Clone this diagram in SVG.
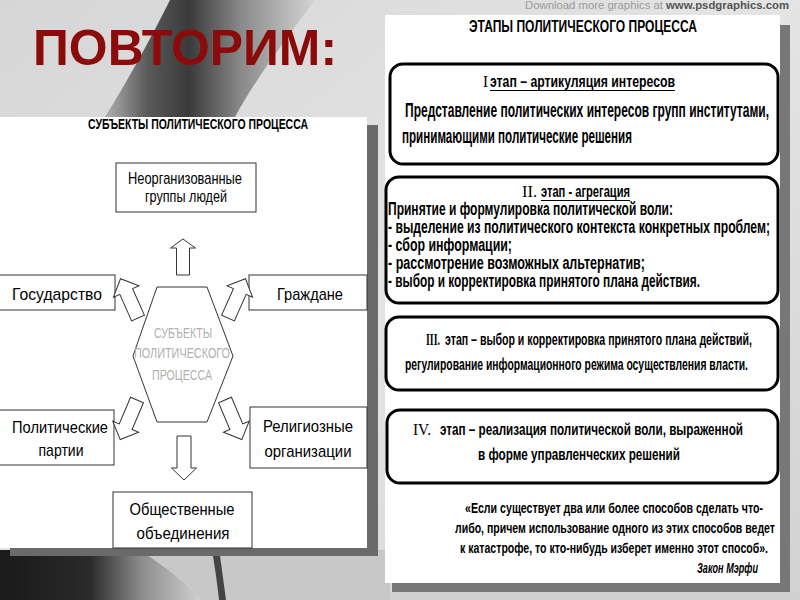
<svg xmlns="http://www.w3.org/2000/svg" width="800" height="600" viewBox="0 0 800 600">
<defs>
<linearGradient id="bg" x1="0" y1="0" x2="1" y2="1">
<stop offset="0" stop-color="#d6d6d6"/>
<stop offset="0.5" stop-color="#e4e4e4"/>
<stop offset="1" stop-color="#d2d2d2"/>
</linearGradient>
<linearGradient id="fold" x1="0" y1="0" x2="1" y2="0">
<stop offset="0" stop-color="#b0b0b0"/>
<stop offset="0.2" stop-color="#5a5a5a"/>
<stop offset="0.4" stop-color="#3a3a3a"/>
<stop offset="0.65" stop-color="#8a8a8a"/>
<stop offset="1" stop-color="#d4d4d4"/>
</linearGradient>
<linearGradient id="botl" x1="0" y1="0" x2="1" y2="0">
<stop offset="0" stop-color="#1a1a1a"/>
<stop offset="0.45" stop-color="#2a2a2a"/>
<stop offset="0.7" stop-color="#8a8a8a"/>
<stop offset="1" stop-color="#cfcfcf"/>
</linearGradient>
<style>
.t{font-family:"Liberation Sans Narrow","Liberation Sans",Arial,sans-serif;fill:#000}
.b{font-weight:bold}
.lbl{font-size:17px;text-anchor:middle}
.r{font-size:16.5px;font-weight:bold}
.r1{font-size:19.5px;font-weight:bold}
.r2{font-size:17.5px;font-weight:bold}
.q{font-size:15.5px;font-weight:bold}
.sr{font-family:"Liberation Serif","Times New Roman",serif;font-size:17px;fill:#000}
.box{fill:#fff;stroke:#333;stroke-width:1}
.rb{fill:#fff;stroke:#000;stroke-width:3}
.arr{fill:#fff;stroke:#333;stroke-width:1;stroke-linejoin:miter}
.hex{font-family:"Liberation Sans Narrow","Liberation Sans",Arial,sans-serif;font-size:14px;fill:#b0b0b0;text-anchor:middle}
</style>
</defs>

<!-- background -->
<rect x="0" y="0" width="800" height="600" fill="url(#bg)"/>
<path d="M170,0 C150,40 128,80 105,117 L235,117 C255,80 285,40 315,0 Z" fill="url(#fold)"/>
<path d="M0,550 L140,550 C170,570 190,585 200,600 L0,600 Z" fill="url(#botl)"/>
<path d="M140,550 L390,550 L390,600 L200,600 C190,585 170,570 140,550 Z" fill="#c8c8c8"/>
<path d="M213,556 C216,575 218,590 219,600 L226,600 C224,585 222,570 220,556 Z" fill="#444"/>
<rect x="390" y="592" width="410" height="8" fill="#d0d0d0"/>

<!-- title -->
<text x="33" y="65" font-family="Liberation Sans, Arial, sans-serif" font-size="50" font-weight="bold" fill="#8b0a0a" textLength="304" lengthAdjust="spacingAndGlyphs">ПОВТОРИМ:</text>

<!-- watermark -->
<text x="525" y="9" font-family="Liberation Sans, Arial, sans-serif" font-size="10.5" fill="#9a9a9a" textLength="264" lengthAdjust="spacingAndGlyphs">Download more graphics at <tspan fill="#555" font-weight="bold">www.psdgraphics.com</tspan></text>

<!-- left panel -->
<g id="left-panel">
<rect x="10" y="125" width="368" height="431" fill="#6a6a6a"/>
<rect x="0" y="117" width="367" height="431" fill="#fff"/>
<text class="t b" x="88" y="129" font-size="14" textLength="220" lengthAdjust="spacingAndGlyphs">СУБЪЕКТЫ ПОЛИТИЧЕСКОГО ПРОЦЕССА</text>
</g>

<g id="hexagon">
<polygon points="157,287 207,287 233,356 207,422 157,422 133,356" fill="#fff" stroke="#333" stroke-width="1"/>
<text class="hex" x="183" y="338" textLength="58" lengthAdjust="spacingAndGlyphs">СУБЪЕКТЫ</text>
<text class="hex" x="182" y="358" textLength="96" lengthAdjust="spacingAndGlyphs">ПОЛИТИЧЕСКОГО</text>
<text class="hex" x="182" y="380" textLength="60" lengthAdjust="spacingAndGlyphs">ПРОЦЕССА</text>
</g>

<g id="n-groups">
<rect class="box" x="116" y="163" width="140" height="49"/>
<text class="t lbl" x="185" y="184" textLength="114" lengthAdjust="spacingAndGlyphs">Неорганизованные</text>
<text class="t lbl" x="186" y="202" textLength="82" lengthAdjust="spacingAndGlyphs">группы людей</text>
</g>
<g id="n-state">
<rect class="box" x="-1" y="275" width="116" height="35"/>
<text class="t lbl" x="57" y="300" textLength="90" lengthAdjust="spacingAndGlyphs">Государство</text>
</g>
<g id="n-citizens">
<rect class="box" x="249" y="275" width="118" height="35"/>
<text class="t lbl" x="310" y="300" textLength="66" lengthAdjust="spacingAndGlyphs">Граждане</text>
</g>
<g id="n-parties">
<rect class="box" x="-1" y="410" width="115" height="55"/>
<text class="t lbl" x="60" y="433" textLength="96" lengthAdjust="spacingAndGlyphs">Политические</text>
<text class="t lbl" x="61" y="456" textLength="45" lengthAdjust="spacingAndGlyphs">партии</text>
</g>
<g id="n-religious">
<rect class="box" x="250" y="407" width="117" height="61"/>
<text class="t lbl" x="308" y="432" textLength="90" lengthAdjust="spacingAndGlyphs">Религиозные</text>
<text class="t lbl" x="308" y="457" textLength="87" lengthAdjust="spacingAndGlyphs">организации</text>
</g>
<g id="n-public">
<rect class="box" x="113" y="492" width="139" height="56"/>
<text class="t lbl" x="182" y="515" textLength="105" lengthAdjust="spacingAndGlyphs">Общественные</text>
<text class="t lbl" x="183" y="539" textLength="93" lengthAdjust="spacingAndGlyphs">объединения</text>
</g>

<g id="connectors">
<path class="arr" transform="translate(183,275)" d="M-6.5,0 V-27 H-12.5 L0,-36 L12.5,-27 H6.5 V0 Z"/>
<path class="arr" transform="translate(184,436) rotate(180)" d="M-7,0 V-32 H-12.5 L0,-44 L12.5,-32 H7 V0 Z"/>
<path class="arr" transform="translate(138,318) rotate(-24)" d="M-7,0 V-29 H-14 L0,-43 L14,-29 H7 V0 Z"/>
<path class="arr" transform="translate(228,318) rotate(24)" d="M-7,0 V-29 H-14 L0,-43 L14,-29 H7 V0 Z"/>
<path class="arr" transform="translate(137,400) rotate(-157)" d="M-7,0 V-29 H-14 L0,-43 L14,-29 H7 V0 Z"/>
<path class="arr" transform="translate(225,400) rotate(157)" d="M-7,0 V-29 H-14 L0,-43 L14,-29 H7 V0 Z"/>
</g>

<!-- right panel -->
<g id="right-panel">
<rect x="392" y="25" width="398" height="567" fill="#777"/>
<rect x="385" y="15" width="395" height="568" fill="#fff"/>
<text class="t b" x="469" y="32" font-size="16.5" textLength="228" lengthAdjust="spacingAndGlyphs">ЭТАПЫ ПОЛИТИЧЕСКОГО ПРОЦЕССА</text>
</g>

<g id="stage1">
<rect class="rb" x="390" y="64" width="388" height="100" rx="13"/>
<text class="sr" x="483" y="87" textLength="5" lengthAdjust="spacingAndGlyphs">I</text>
<text class="t r" x="490" y="87" textLength="185" lengthAdjust="spacingAndGlyphs">этап – артикуляция интересов</text>
<line x1="490" y1="90.5" x2="675" y2="90.5" stroke="#000" stroke-width="1.2"/>
<text class="t r1" x="405" y="117" textLength="364" lengthAdjust="spacingAndGlyphs">Представление политических интересов групп институтами,</text>
<text class="t r1" x="402" y="143" textLength="230" lengthAdjust="spacingAndGlyphs">принимающими политические решения</text>
</g>

<g id="stage2">
<rect class="rb" x="386" y="177" width="392" height="126" rx="13"/>
<text class="sr" x="522" y="197" textLength="15" lengthAdjust="spacingAndGlyphs">II.</text>
<text class="t r" x="541" y="197" textLength="89" lengthAdjust="spacingAndGlyphs">этап - агрегация</text>
<line x1="541" y1="200.5" x2="630" y2="200.5" stroke="#000" stroke-width="1.2"/>
<text class="t r2" x="388" y="215" textLength="285" lengthAdjust="spacingAndGlyphs">Принятие  и формулировка политической воли:</text>
<text class="t r2" x="388" y="233" textLength="382" lengthAdjust="spacingAndGlyphs">- выделение из политического контекста конкретных  проблем;</text>
<text class="t r2" x="388" y="251" textLength="124" lengthAdjust="spacingAndGlyphs">- сбор информации;</text>
<text class="t r2" x="388" y="269" textLength="257" lengthAdjust="spacingAndGlyphs">- рассмотрение возможных альтернатив;</text>
<text class="t r2" x="388" y="287" textLength="312" lengthAdjust="spacingAndGlyphs">- выбор и корректировка принятого плана действия.</text>
</g>

<g id="stage3">
<rect class="rb" x="386" y="317" width="392" height="73" rx="13"/>
<text class="sr b" x="426" y="345" font-size="15" textLength="14" lengthAdjust="spacingAndGlyphs">III.</text>
<text class="t r" x="445" y="345" textLength="307" lengthAdjust="spacingAndGlyphs">этап – выбор и корректировка принятого плана действий,</text>
<text class="t r" x="405" y="370" textLength="343" lengthAdjust="spacingAndGlyphs">регулирование информационного режима осуществления власти.</text>
</g>

<g id="stage4">
<rect class="rb" x="387" y="410" width="391" height="73" rx="13"/>
<text class="sr" x="413" y="435" font-size="16" textLength="18" lengthAdjust="spacingAndGlyphs">IV.</text>
<text class="t r" x="440" y="435" textLength="303" lengthAdjust="spacingAndGlyphs">этап – реализация политической воли, выраженной</text>
<text class="t r" x="478" y="460" textLength="202" lengthAdjust="spacingAndGlyphs">в форме управленческих решений</text>
</g>

<g id="quote">
<text class="t q" x="465" y="513" textLength="298" lengthAdjust="spacingAndGlyphs">«Если существует два или более способов сделать что-</text>
<text class="t q" x="455" y="533" textLength="320" lengthAdjust="spacingAndGlyphs">либо, причем использование одного из этих способов ведет</text>
<text class="t q" x="460" y="553" textLength="308" lengthAdjust="spacingAndGlyphs">к катастрофе, то кто-нибудь изберет именно этот способ».</text>
<text class="t q" x="697" y="573" font-style="italic" textLength="61" lengthAdjust="spacingAndGlyphs">Закон Мэрфи</text>
</g>
</svg>
